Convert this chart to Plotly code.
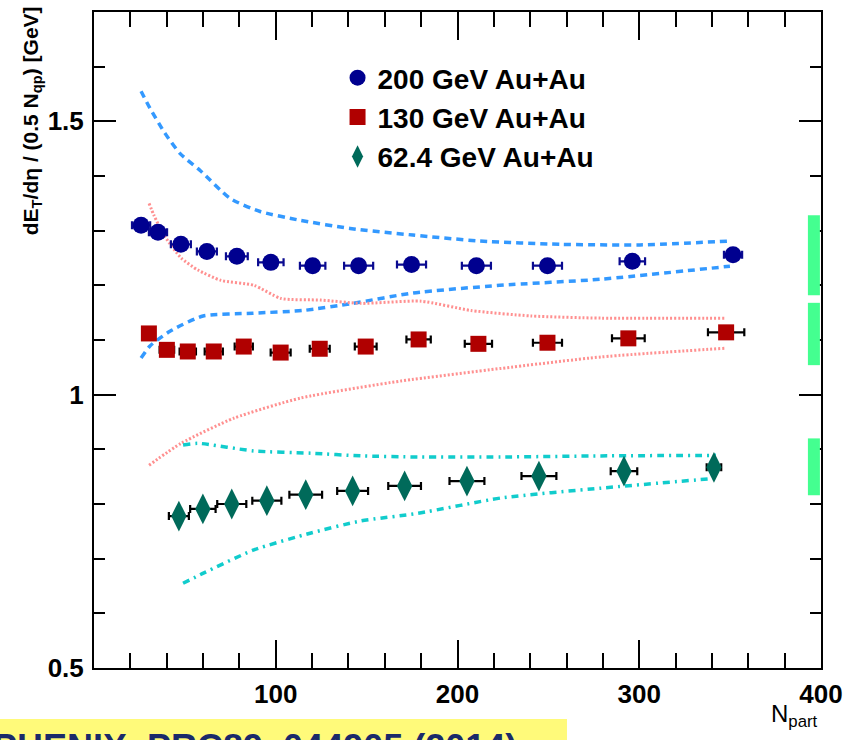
import plotly.graph_objects as go

# ---------------- data ----------------
npart_200 = [25.9, 35.2, 47.8, 62.1, 78.6, 97.3, 120.3, 145.6, 174.7, 210.4, 249.5, 296.2, 351.6]
et_200 = [1.310, 1.297, 1.275, 1.262, 1.253, 1.242, 1.236, 1.236, 1.238, 1.236, 1.236, 1.244, 1.256]
xerr_200 = [5, 5, 5.5, 5.5, 6, 7, 7, 8, 8, 8, 8, 7, 5]

npart_130 = [30.2, 40.1, 51.6, 65.9, 82.4, 102.7, 124.2, 149.5, 178.6, 211.5, 249.5, 294.0, 347.8]
et_130 = [1.112, 1.082, 1.079, 1.079, 1.088, 1.077, 1.084, 1.088, 1.101, 1.093, 1.095, 1.103, 1.114]
xerr_130 = [3, 4, 4.5, 5, 5, 5.5, 5.5, 6, 6.7, 7.5, 8, 9, 10]

npart_62 = [46.7, 59.9, 75.8, 95.1, 116.5, 142.3, 170.9, 205.2, 244.8, 291.6, 341.1]
et_62 = [0.778, 0.791, 0.800, 0.806, 0.817, 0.824, 0.833, 0.842, 0.851, 0.860, 0.867]
xerr_62 = [5.5, 7, 8, 8, 9, 8.5, 9, 9.6, 9.6, 7.3, 4]

# model bands
band200_up_x = [25.9, 30.8, 39.1, 47.4, 58.4, 74.9, 91.4, 113.4, 140.9, 175.5, 212.4, 256.4, 300.4, 349.9]
band200_up_y = [1.555, 1.524, 1.478, 1.441, 1.410, 1.359, 1.335, 1.319, 1.304, 1.292, 1.281, 1.275, 1.274, 1.281]
band200_lo_x = [25.9, 30.8, 41.8, 60.0, 87.5, 115.0, 142.5, 175.5, 223.3, 278.4, 349.9]
band200_lo_y = [1.067, 1.089, 1.116, 1.144, 1.149, 1.154, 1.167, 1.186, 1.200, 1.211, 1.235]

band130_up_x = [30.3, 33.0, 38.5, 47.9, 57.2, 69.9, 88.0, 102.9, 124.9, 146.9, 179.9, 207.4, 240.4, 278.9, 347.6]
band130_up_y = [1.350, 1.328, 1.292, 1.250, 1.228, 1.209, 1.200, 1.176, 1.173, 1.167, 1.171, 1.154, 1.144, 1.140, 1.140]
band130_lo_x = [30.3, 47.9, 77.0, 113.9, 168.9, 223.9, 278.9, 347.6]
band130_lo_y = [0.871, 0.911, 0.957, 0.994, 1.025, 1.048, 1.069, 1.085]

band62_up_x = [49.0, 57.2, 88.0, 119.4, 146.9, 178.3, 223.9, 278.9, 342.2]
band62_up_y = [0.908, 0.911, 0.897, 0.893, 0.888, 0.886, 0.886, 0.888, 0.889]
band62_lo_x = [49.0, 60.5, 88.0, 119.4, 146.9, 178.3, 223.9, 278.9, 342.2]
band62_lo_y = [0.655, 0.674, 0.716, 0.747, 0.769, 0.783, 0.811, 0.829, 0.847]

# systematic boxes at right edge
syst_center = [1.255, 1.111, 0.868]
syst_half = [0.073, 0.057, 0.052]
syst_x = [392.8, 399.4]

x_tickvals = [100, 200, 300, 400]
x_ticktext = ["100", "200", "300", "400"]
y_tickvals = [0.5, 1.0, 1.5]
y_ticktext = ["0.5", "1", "1.5"]

labels = ["200 GeV Au+Au", "130 GeV Au+Au", "62.4 GeV Au+Au"]

# ---------------- figure ----------------
fig = go.Figure()

line_styles = [
    (band200_up_x, band200_up_y, "#3399ff", "7px,5px", 3.5),
    (band200_lo_x, band200_lo_y, "#3399ff", "7px,5px", 3.5),
    (band130_up_x, band130_up_y, "#ff9090", "2px,2px", 3),
    (band130_lo_x, band130_lo_y, "#ff9090", "2px,2px", 3),
    (band62_up_x, band62_up_y, "#11cccc", "7px,5px,2px,5px", 3.5),
    (band62_lo_x, band62_lo_y, "#11cccc", "7px,5px,2px,5px", 3.5),
]
for xs, ys, col, dash, w in line_styles:
    fig.add_trace(go.Scatter(x=xs, y=ys, mode="lines", showlegend=False,
                             line=dict(color=col, dash=dash, width=w, shape="spline", smoothing=0.6),
                             hoverinfo="skip"))

fig.add_trace(go.Scatter(
    x=npart_200, y=et_200, mode="markers", name=labels[0],
    marker=dict(symbol="circle", size=17, color="#00008f"),
    error_x=dict(type="data", array=xerr_200, color="#0a0a90", thickness=2.2, width=4)))
fig.add_trace(go.Scatter(
    x=npart_130, y=et_130, mode="markers", name=labels[1],
    marker=dict(symbol="square", size=16, color="#b00000"),
    error_x=dict(type="data", array=xerr_130, color="#000000", thickness=2.2, width=4)))
fig.add_trace(go.Scatter(
    x=npart_62, y=et_62, mode="markers", name=labels[2],
    marker=dict(symbol="diamond-tall", size=22, color="#006a5a"),
    error_x=dict(type="data", array=xerr_62, color="#000000", thickness=2.2, width=4)))

for c, h in zip(syst_center, syst_half):
    fig.add_shape(type="rect", xref="x", yref="y", x0=syst_x[0], x1=syst_x[1],
                  y0=c - h, y1=c + h, fillcolor="#44ff90", line=dict(width=0), layer="above")

axis_font = dict(family="Liberation Sans, Arial, sans-serif", size=26, color="black", weight="bold")

fig.update_xaxes(
    range=[0, 400], tickmode="array", tickvals=x_tickvals, ticktext=x_ticktext,
    ticks="inside", ticklen=28, tickwidth=1.5, tickcolor="black", automargin=False,
    showline=True, linecolor="black", linewidth=2, mirror="ticks",
    showgrid=False, zeroline=False, tickfont=axis_font, ticklabelstandoff=2,
    ticklabeloverflow="allow",
    minor=dict(ticks="inside", ticklen=15, tickwidth=1.5, tickcolor="black",
               tickmode="linear", tick0=0, dtick=20, showgrid=False))
fig.update_yaxes(
    range=[0.5, 1.7], tickmode="array", tickvals=y_tickvals, ticktext=y_ticktext,
    ticks="inside", ticklen=22, tickwidth=1.5, tickcolor="black", automargin=False,
    showline=True, linecolor="black", linewidth=2, mirror="ticks",
    showgrid=False, zeroline=False, tickfont=axis_font, ticklabelstandoff=3,
    ticklabeloverflow="allow",
    minor=dict(ticks="inside", ticklen=11, tickwidth=1.5, tickcolor="black",
               tickmode="linear", tick0=0.5, dtick=0.1, showgrid=False))

fig.add_annotation(
    xref="paper", yref="paper", x=-0.0853, y=0.835, xanchor="center", yanchor="middle",
    textangle=-90, showarrow=False,
    text="dE<sub>T</sub>/dη / (0.5 N<sub>qp</sub>) [GeV]",
    font=dict(family="Liberation Sans, Arial, sans-serif", size=21, color="black", weight="bold"))

fig.add_annotation(
    xref="paper", yref="paper", x=0.929, y=-0.046, xanchor="left", yanchor="top", showarrow=False,
    text="N<sub>part</sub>",
    font=dict(family="Liberation Sans, Arial, sans-serif", size=24, color="black"))

fig.add_shape(type="rect", xref="paper", yref="paper", x0=-0.1293, x1=0.6506, y0=-0.0777, y1=-0.13,
              fillcolor="#fffa7a", line=dict(width=0), layer="below")
fig.add_annotation(
    xref="paper", yref="paper", x=-0.142, y=-0.087, xanchor="left", yanchor="top", showarrow=False,
    text="PHENIX, PRC89, 044905 (2014)",
    font=dict(family="Liberation Sans, Arial, sans-serif", size=36, color="#1a2a6a", weight="bold"))

fig.update_layout(
    template="none",
    width=844, height=740,
    margin=dict(l=94, r=23, t=12, b=72, autoexpand=False),
    paper_bgcolor="white", plot_bgcolor="white",
    showlegend=True,
    legend=dict(x=0.335, y=0.9375, xanchor="left", yanchor="top",
                bgcolor="rgba(0,0,0,0)", borderwidth=0,
                font=dict(family="Liberation Sans, Arial, sans-serif", size=28, color="black", weight="bold"),
                tracegroupgap=0),
)

fig.write_html("out.html", config={"displayModeBar": False},
               post_script="document.body.style.margin='0';document.body.style.padding='0';")
